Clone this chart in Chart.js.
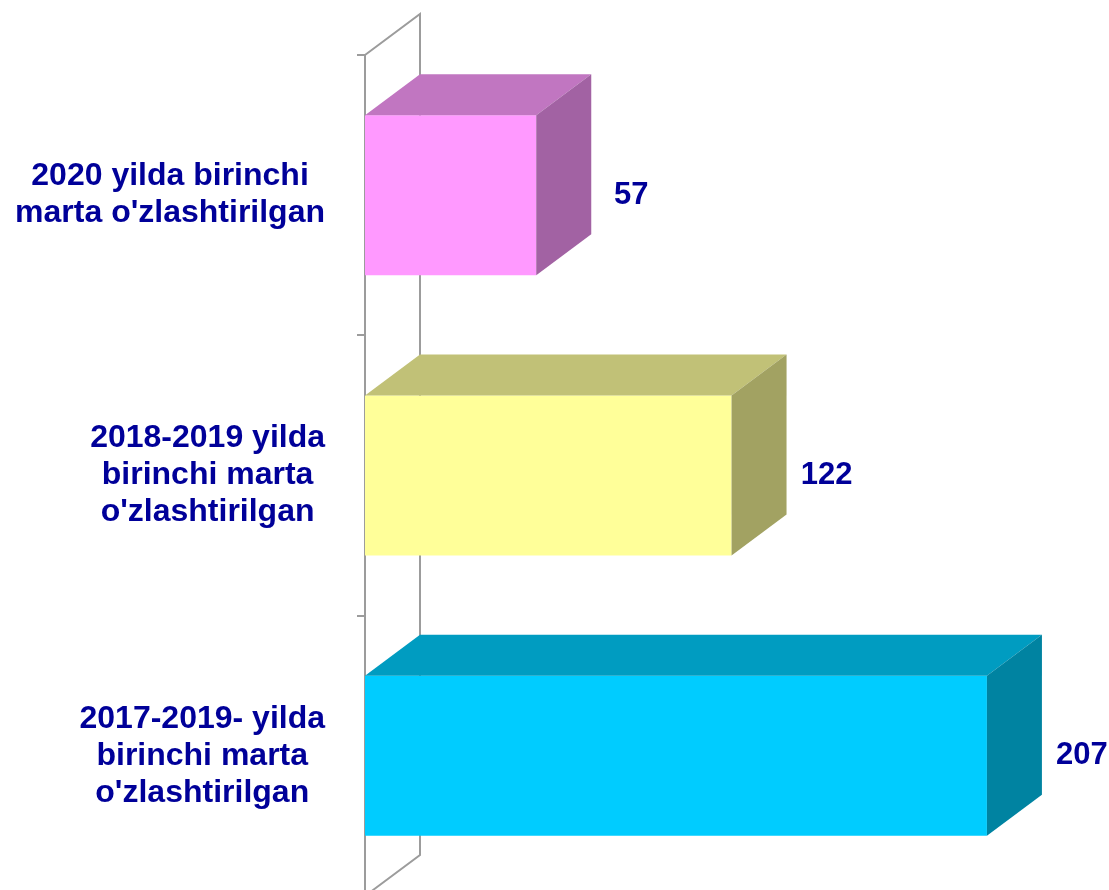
<!DOCTYPE html>
<html>
<head>
<meta charset="utf-8">
<script src="https://cdn.jsdelivr.net/npm/chart.js@4/dist/chart.umd.min.js"></script>
<style>
  html, body { margin: 0; padding: 0; overflow: hidden; background: #ffffff; }
  canvas { display: block; }
</style>
</head>
<body>
<canvas id="c" width="1109" height="900"></canvas>
<script>
// ---- data ----
const categories = [
  ["2020 yilda birinchi", "marta o'zlashtirilgan"],
  ["2018-2019 yilda", "birinchi marta", "o'zlashtirilgan"],
  ["2017-2019- yilda", "birinchi marta", "o'zlashtirilgan"]
];
const values = [57, 122, 207];
const frontColors = ['#FF99FF', '#FFFF99', '#00CCFF'];
const topColors = ['#C176C1', '#C1C177', '#009CC1'];
const sideColors = ['#A262A3', '#A2A262', '#0083A1'];

// ---- style constants ----
const DX = 55, DY = 41;
const AXIS_GRAY = '#9C9C9C';
const TEXT_COLOR = '#000099';
const FONT = '"Liberation Sans", Arial, sans-serif';

const threeD = {
  id: 'threeD',
  beforeDatasetsDraw(chart) {
    const ctx = chart.ctx, a = chart.chartArea;
    ctx.save();
    ctx.strokeStyle = AXIS_GRAY;
    ctx.lineWidth = 2;
    ctx.beginPath();
    ctx.moveTo(a.left, a.top);
    ctx.lineTo(a.left + DX, a.top - DY);
    ctx.lineTo(a.left + DX, a.bottom - DY);
    ctx.lineTo(a.left, a.bottom);
    ctx.stroke();
    ctx.restore();
  },
  afterDatasetsDraw(chart) {
    const ctx = chart.ctx;
    const meta = chart.getDatasetMeta(0);
    ctx.save();
    meta.data.forEach((bar, i) => {
      const p = bar.getProps(['x', 'y', 'base', 'height'], true);
      const top = p.y - p.height / 2, bottom = p.y + p.height / 2;
      const left = p.base, right = p.x;
      // top face
      ctx.fillStyle = topColors[i];
      ctx.beginPath();
      ctx.moveTo(left, top);
      ctx.lineTo(left + DX, top - DY);
      ctx.lineTo(right + DX, top - DY);
      ctx.lineTo(right, top);
      ctx.closePath();
      ctx.fill();
      // side face
      ctx.fillStyle = sideColors[i];
      ctx.beginPath();
      ctx.moveTo(right, top);
      ctx.lineTo(right + DX, top - DY);
      ctx.lineTo(right + DX, bottom - DY);
      ctx.lineTo(right, bottom);
      ctx.closePath();
      ctx.fill();
      // value label
      ctx.fillStyle = TEXT_COLOR;
      ctx.font = 'bold 31px ' + FONT;
      ctx.textAlign = 'center';
      ctx.textBaseline = 'middle';
      ctx.fillText(String(values[i]), right + DX + 40, p.y);
    });
    ctx.restore();
  },
  afterDraw(chart) {
    const ctx = chart.ctx;
    const yScale = chart.scales.y;
    const lineH = 37, rightEdge = 325;
    ctx.save();
    ctx.fillStyle = TEXT_COLOR;
    ctx.font = 'bold 32px ' + FONT;
    ctx.textAlign = 'center';
    ctx.textBaseline = 'middle';
    categories.forEach((lines, i) => {
      const y = yScale.getPixelForValue(i);
      let maxW = 0;
      lines.forEach(l => { maxW = Math.max(maxW, ctx.measureText(l).width); });
      const cx = rightEdge - maxW / 2;
      lines.forEach((l, j) => {
        const ly = y + (j - (lines.length - 1) / 2) * lineH;
        ctx.fillText(l, cx, ly);
      });
    });
    ctx.restore();
  }
};

new Chart(document.getElementById('c'), {
  type: 'bar',
  data: {
    labels: categories,
    datasets: [{
      data: values,
      backgroundColor: frontColors,
      borderWidth: 0,
      categoryPercentage: 1.0,
      barPercentage: 0.571
    }]
  },
  options: {
    indexAxis: 'y',
    responsive: false,
    animation: false,
    layout: { padding: { top: 55, right: 68, bottom: 4, left: 0 } },
    plugins: { legend: { display: false }, tooltip: { enabled: false } },
    scales: {
      x: {
        display: false,
        min: 0,
        max: 225
      },
      y: {
        offset: true,
        afterFit(scale) { scale.width = 365; },
        ticks: { display: false },
        grid: {
          drawOnChartArea: false,
          drawTicks: true,
          tickLength: 8,
          color: AXIS_GRAY,
          lineWidth: 2
        },
        border: { display: true, color: AXIS_GRAY, width: 2 }
      }
    }
  },
  plugins: [threeD]
});
</script>
</body>
</html>
